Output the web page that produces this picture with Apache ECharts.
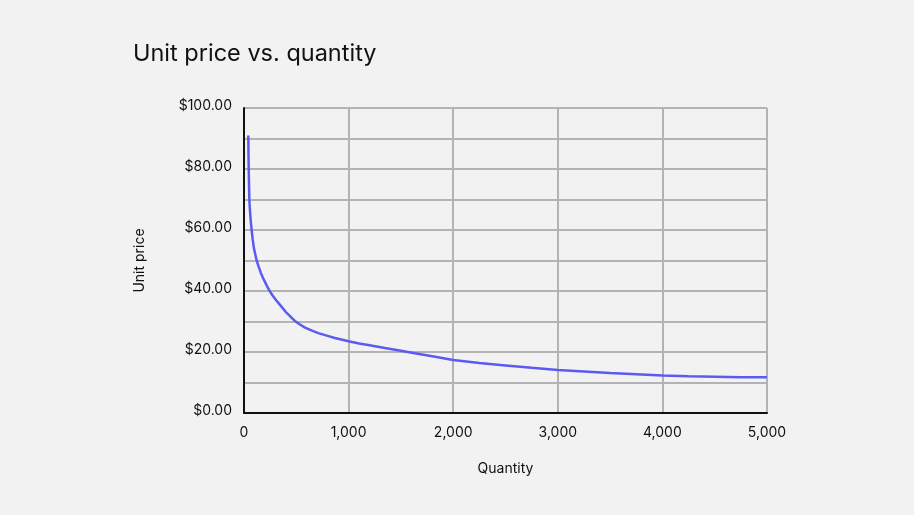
<!DOCTYPE html>
<html>
<head>
<meta charset="utf-8">
<script src="https://cdn.jsdelivr.net/npm/echarts@6/dist/echarts.min.js"></script>
<style>
html,body{margin:0;padding:0;background:#f2f2f2;}
#c{width:914px;height:515px;}
</style>
</head>
<body>
<div id="c"></div>
<script>
const quantities = [41, 43, 45, 48, 51, 55, 60, 66, 73, 83, 95, 108, 121, 140, 160, 180, 200, 220, 242, 270, 300, 350, 400, 450, 487, 535,
  583, 650, 710, 800, 869, 1000, 1100, 1187, 1347, 1500, 1633, 1800, 2000, 2250, 2500, 2750, 3000, 3250, 3500, 3750, 4000, 4250, 4500, 4750, 5000];
const unitPrices = [91, 85, 80, 75, 70, 67.5, 65, 62.5, 60, 57, 54, 52, 50, 48, 46, 44.4, 43, 41.6, 40.2, 38.7, 37.3, 35.2, 33.1, 31.4, 30.2, 29.0,
  28.0, 27.0, 26.2, 25.3, 24.6, 23.5, 22.8, 22.3, 21.3, 20.4, 19.6, 18.6, 17.4, 16.4, 15.6, 14.8, 14.1, 13.6, 13.1, 12.7, 12.3, 12.05, 11.9, 11.75, 11.7];
const titleText = 'Unit price vs. quantity';
const xName = 'Quantity';
const yName = 'Unit price';

const FONT = 'Inter, "Noto Sans", sans-serif';
const chart = echarts.init(document.getElementById('c'), null, {renderer: 'canvas'});
chart.setOption({
  backgroundColor: '#f2f2f2',
  animation: false,
  title: {
    text: titleText, left: 128, top: 37,
    textStyle: {fontFamily: FONT, fontSize: 23.5, fontWeight: 'normal', color: '#111'}
  },
  grid: {left: 244, right: 147, top: 108, bottom: 102},
  xAxis: {
    type: 'value', min: 0, max: 5000, interval: 1000,
    name: xName, nameLocation: 'middle', nameGap: 49,
    nameTextStyle: {fontFamily: FONT, fontSize: 14, color: '#111'},
    axisLine: {show: true, onZero: false, lineStyle: {color: '#111', width: 2}},
    axisTick: {show: false},
    axisLabel: {fontFamily: FONT, fontSize: 14, color: '#111', margin: 13,
      formatter: v => v.toLocaleString('en-US')},
    splitLine: {show: true, lineStyle: {color: '#b3b3b3', width: 2}}
  },
  yAxis: {
    type: 'value', min: 0, max: 100, interval: 10,
    name: yName, nameLocation: 'middle', nameGap: 97, nameRotate: 90,
    nameTextStyle: {fontFamily: FONT, fontSize: 14, color: '#111'},
    axisLine: {show: true, lineStyle: {color: '#111', width: 2}},
    axisTick: {show: false},
    axisLabel: {fontFamily: FONT, fontSize: 14, color: '#111', margin: 12,
      verticalAlign: 'bottom', lineHeight: 4,
      formatter: v => (v % 20 === 0 ? '$' + v.toFixed(2) : '')},
    splitLine: {show: true, lineStyle: {color: '#b3b3b3', width: 2}}
  },
  series: [{
    type: 'line',
    data: quantities.map((q, i) => [q, unitPrices[i]]),
    showSymbol: false,
    smooth: false,
    lineStyle: {color: '#5b5bf2', width: 2.5},
    z: 5
  }]
});
</script>
</body>
</html>
